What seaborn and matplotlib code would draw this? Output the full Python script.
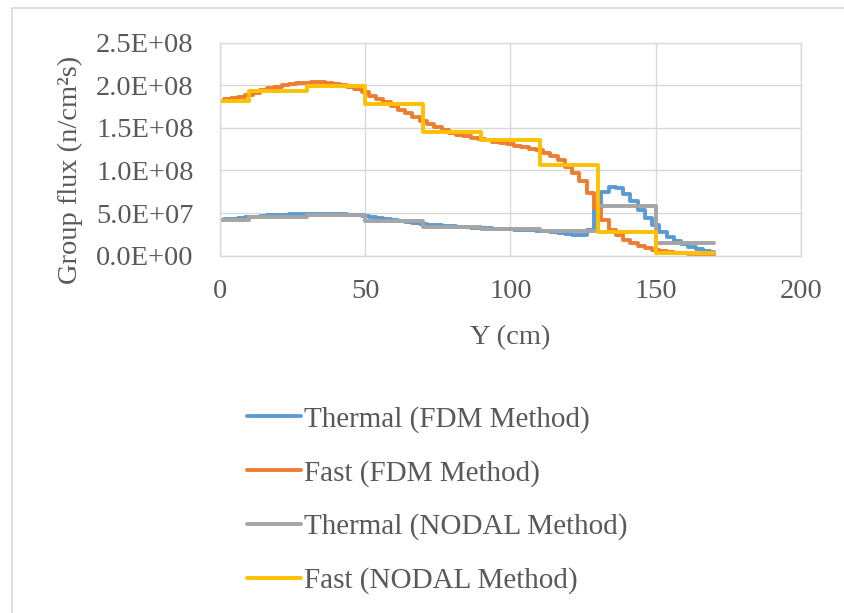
import numpy as np
import pandas as pd
import matplotlib
matplotlib.use("Agg")
import matplotlib.pyplot as plt
from matplotlib.patches import Rectangle
from matplotlib.lines import Line2D
from matplotlib.ticker import FuncFormatter
import seaborn as sns

# FDM mesh positions (cm) and group fluxes (n/cm^2 s)
fdm_y = [i * 2.5 for i in range(69)]
fast_fdm = [1.81, 1.835, 1.852, 1.865, 1.885, 1.915, 1.94, 1.965, 1.985, 2.00,
            2.015, 2.025, 2.032, 2.035, 2.035, 2.028, 2.018, 2.005, 1.985, 1.96,
            1.925, 1.88, 1.84, 1.80, 1.76, 1.715, 1.67, 1.625, 1.58, 1.55,
            1.505, 1.47, 1.445, 1.42, 1.40, 1.385, 1.37, 1.355, 1.34, 1.325,
            1.31, 1.29, 1.27, 1.255, 1.235, 1.205, 1.17, 1.12, 1.045, 0.97,
            0.88, 0.74, 0.56, 0.42, 0.30, 0.24, 0.185, 0.145, 0.11, 0.09,
            0.072, 0.06, 0.047, 0.037, 0.03, 0.024, 0.019, 0.015, 0.012]
fast_fdm = [v * 1e8 for v in fast_fdm]
thermal_fdm = [4.2, 4.28, 4.36, 4.44, 4.52, 4.6, 4.67, 4.73, 4.78, 4.82,
               4.86, 4.89, 4.91, 4.92, 4.92, 4.91, 4.88, 4.84, 4.79, 4.72,
               4.63, 4.53, 4.42, 4.31, 4.2, 4.08, 3.96, 3.85, 3.74, 3.64,
               3.56, 3.49, 3.43, 3.38, 3.34, 3.3, 3.26, 3.22, 3.18, 3.14,
               3.1, 3.06, 3.01, 2.96, 2.91, 2.85, 2.78, 2.68, 2.57, 2.46,
               2.42, 3.0, 5.5, 7.5, 8.05, 7.95, 7.3, 6.4, 5.4, 4.4,
               3.55, 2.8, 2.22, 1.75, 1.4, 1.05, 0.75, 0.5, 0.4]
thermal_fdm = [v * 1e7 for v in thermal_fdm]

# Nodal method: node boundaries (cm) and node-averaged fluxes
node_edges = [0, 10, 30, 50, 70, 90, 110, 130, 150, 170]
fast_nodal = [1.81e8, 1.937e8, 1.99e8, 1.778e8, 1.457e8, 1.353e8, 1.07e8, 2.82e7, 3.0e6]
thermal_nodal = [4.2e7, 4.6e7, 4.75e7, 4.13e7, 3.38e7, 3.12e7, 2.88e7, 5.84e7, 1.53e7]

labels = ["Thermal (FDM Method)", "Fast (FDM Method)",
          "Thermal (NODAL Method)", "Fast (NODAL Method)"]
colors = ["#5B9BD5", "#ED7D31", "#A5A5A5", "#FFC000"]

sns.set_theme(style="white")
plt.rcParams["font.family"] = ["Liberation Serif", "DejaVu Serif"]
text_color = "#595959"
grid_color = "#D9D9D9"
fs = 20.5

fig = plt.figure(figsize=(8.45, 6.13), dpi=100)
ax = fig.add_axes([220 / 845, 1 - 255.7 / 613, (801 - 220) / 845, (255.7 - 42.7) / 613])

fdm = pd.DataFrame({"y": fdm_y, "thermal": thermal_fdm, "fast": fast_fdm})
nodal = pd.DataFrame({"y": node_edges,
                      "thermal": thermal_nodal + [thermal_nodal[-1]],
                      "fast": fast_nodal + [fast_nodal[-1]]})

lw = 2.8
style = dict(estimator=None, solid_joinstyle="round", solid_capstyle="round")
sns.lineplot(data=fdm, x="y", y="thermal", ax=ax, color=colors[0], lw=lw,
             drawstyle="steps-mid", **style)
sns.lineplot(data=fdm, x="y", y="fast", ax=ax, color=colors[1], lw=lw,
             drawstyle="steps-mid", **style)
sns.lineplot(data=nodal, x="y", y="thermal", ax=ax, color=colors[2], lw=lw,
             drawstyle="steps-post", **style)
sns.lineplot(data=nodal, x="y", y="fast", ax=ax, color=colors[3], lw=lw,
             drawstyle="steps-post", **style)

ax.set_xlim(0, 200)
ax.set_ylim(0, 2.5e8)
ax.set_xticks([0, 50, 100, 150, 200])
ax.set_yticks([0, 5e7, 1e8, 1.5e8, 2e8, 2.5e8])
ax.yaxis.set_major_formatter(FuncFormatter(lambda v, p: "{:.1E}".format(v)))
ax.grid(True, color=grid_color, lw=1.0)
ax.set_axisbelow(True)
for s in ax.spines.values():
    s.set_color(grid_color)
    s.set_linewidth(1.0)
ax.tick_params(axis="both", length=0, labelsize=fs, labelcolor=text_color)
ax.tick_params(axis="y", pad=19)
ax.tick_params(axis="x", pad=17)
ax.set_xlabel("")
ax.set_ylabel("")

fig.text(510 / 845, 1 - 338 / 613, "Y (cm)", ha="center", va="center",
         fontsize=fs, color=text_color)
fig.text(70 / 845, 1 - 169.5 / 613, "Group flux (n/cm²s)", ha="center", va="center",
         rotation=90, fontsize=fs, color=text_color)

handles = [Line2D([0], [0], color=c, lw=lw, solid_capstyle="round") for c in colors]
fig.legend(handles, labels, loc="center left", bbox_to_anchor=(247 / 845, 1 - 500 / 613),
           frameon=False, fontsize=21, labelcolor=text_color, handlelength=1.85,
           handletextpad=0.12, labelspacing=0.92, borderpad=0, borderaxespad=0)

# chart area border
fig.patches.append(Rectangle((12 / 845, -0.05), 1.2, 1 - 8 / 613 + 0.05,
                             transform=fig.transFigure, fill=False,
                             edgecolor=grid_color, lw=1.2))

fig.savefig("out.png", dpi=100, facecolor="white")
